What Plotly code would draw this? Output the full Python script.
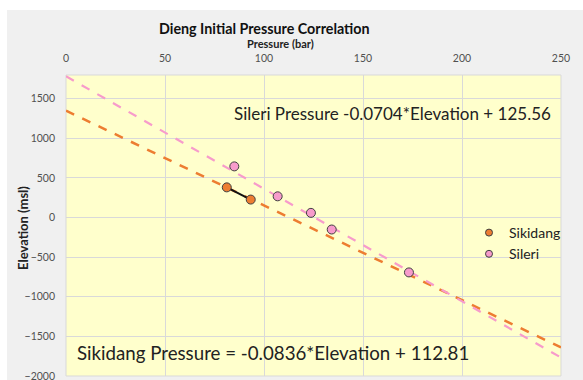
import numpy as np
import plotly.graph_objects as go

# Measured well data: pressure (bar) vs elevation (m above sea level)
sikidang_pressure = [81.2, 93.3]
sikidang_elevation = [381, 227]

sileri_pressure = [85.0, 106.9, 123.7, 134.2, 173.2]
sileri_elevation = [646, 268, 59, -151, -693]

# Linear correlations: Pressure = slope * Elevation + intercept
sikidang_slope, sikidang_intercept = -0.0836, 112.81
sileri_slope, sileri_intercept = -0.0704, 125.56

x_ticks = [0, 50, 100, 150, 200, 250]
y_ticks = [-2000, -1500, -1000, -500, 0, 500, 1000, 1500]

ORANGE = "#ED7D31"
PINK = "#F79BCB"
FONT = "Lato"
DARK = "#222222"
TICK = "#505050"

# Trend lines across the full pressure axis, from the fitted correlations
p_line = np.array([0.0, 250.0])
sik_line_elev = (p_line - sikidang_intercept) / sikidang_slope
sil_line_elev = (p_line - sileri_intercept) / sileri_slope

fig = go.Figure()

fig.add_trace(go.Scatter(x=p_line, y=sik_line_elev, mode="lines",
                         line=dict(color=ORANGE, width=2.5, dash="dash"),
                         showlegend=False, hoverinfo="skip"))
fig.add_trace(go.Scatter(x=p_line, y=sil_line_elev, mode="lines",
                         line=dict(color=PINK, width=2.2, dash="dash"),
                         showlegend=False, hoverinfo="skip"))

# Short connector between the two Sikidang wells
fig.add_trace(go.Scatter(x=sikidang_pressure, y=sikidang_elevation, mode="lines",
                         line=dict(color="#111111", width=2),
                         showlegend=False, hoverinfo="skip"))

marker_line = dict(color="#404040", width=1)
fig.add_trace(go.Scatter(x=sikidang_pressure, y=sikidang_elevation, mode="markers",
                         name="Sikidang", showlegend=False,
                         marker=dict(color=ORANGE, size=9, line=marker_line)))
fig.add_trace(go.Scatter(x=sileri_pressure, y=sileri_elevation, mode="markers",
                         name="Sileri", showlegend=False,
                         marker=dict(color=PINK, size=9, line=marker_line)))

# Legend entries with smaller symbols
fig.add_trace(go.Scatter(x=[None], y=[None], mode="markers", name="Sikidang",
                         marker=dict(color=ORANGE, size=7, line=marker_line)))
fig.add_trace(go.Scatter(x=[None], y=[None], mode="markers", name="Sileri",
                         marker=dict(color=PINK, size=7, line=marker_line)))

sik_label = f"Sikidang Pressure = {sikidang_slope:.4f}*Elevation + {sikidang_intercept:.2f}"
sil_label = f"Sileri Pressure {sileri_slope:.4f}*Elevation + {sileri_intercept:.2f}"

annotations = [
    dict(text="<b>Dieng Initial Pressure Correlation</b>", xref="paper", yref="paper",
         x=0.402, y=1.155, xanchor="center", yanchor="middle", showarrow=False,
         font=dict(family=FONT, size=14.3, color="#111111")),
    dict(text="<b>Pressure (bar)</b>", xref="paper", yref="paper",
         x=0.434, y=1.105, xanchor="center", yanchor="middle", showarrow=False,
         font=dict(family=FONT, size=11, color=DARK)),
    dict(text="<b>Elevation (msl)</b>", xref="paper", yref="paper",
         x=(23 - 66) / 495, y=(376 - 228) / 301, xanchor="center", yanchor="middle",
         showarrow=False, textangle=-90, font=dict(family=FONT, size=13, color=DARK)),
    dict(text=sil_label, xref="paper", yref="paper",
         x=(553 - 66) / 495, y=(376 - 114) / 301, xanchor="right", yanchor="middle",
         showarrow=False, font=dict(family=FONT, size=17, color=DARK)),
    dict(text=sik_label, xref="paper", yref="paper",
         x=(75 - 66) / 495, y=(376 - 353) / 301, xanchor="left", yanchor="middle",
         showarrow=False, font=dict(family=FONT, size=18.7, color=DARK)),
]

shapes = [
    # light grey chart frame with white edge at top/left
    dict(type="rect", xref="paper", yref="paper", layer="below",
         x0=(7 - 66) / 495, x1=(583 - 66) / 495 + 0.01,
         y0=-0.05, y1=(376 - 10) / 301,
         fillcolor="#F0F0F0", line=dict(width=0)),
    # pale yellow plot area
    dict(type="rect", xref="paper", yref="paper", layer="below",
         x0=0, x1=1, y0=0, y1=1,
         fillcolor="#FFFFCC", line=dict(color="#D9D9D9", width=1)),
]

fig.update_layout(
    width=583, height=380,
    margin=dict(l=66, r=22, t=75, b=4),
    paper_bgcolor="white", plot_bgcolor="rgba(0,0,0,0)",
    font=dict(family=FONT, color=TICK),
    annotations=annotations, shapes=shapes,
    legend=dict(x=(469 - 66) / 495, y=(376 - 217) / 301, xanchor="left", yanchor="top",
                bgcolor="rgba(0,0,0,0)", font=dict(family=FONT, size=14, color=DARK),
                itemwidth=30),
)
fig.update_xaxes(range=[0, 250], side="top", tickvals=x_ticks, automargin=False,
                 showgrid=True, gridcolor="#D9D9D9", gridwidth=1,
                 zeroline=False, showline=False, ticks="",
                 tickfont=dict(family=FONT, size=10.5, color=TICK), ticklabelstandoff=10)
fig.update_yaxes(range=[-2001, 1800], tickvals=y_ticks, automargin=False,
                 showgrid=True, gridcolor="#D9D9D9", gridwidth=1,
                 zeroline=False, showline=False, ticks="",
                 tickfont=dict(family=FONT, size=10.5, color=TICK), ticklabelstandoff=10,
                 ticklabeloverflow="allow")

fig.write_html("out.html")
